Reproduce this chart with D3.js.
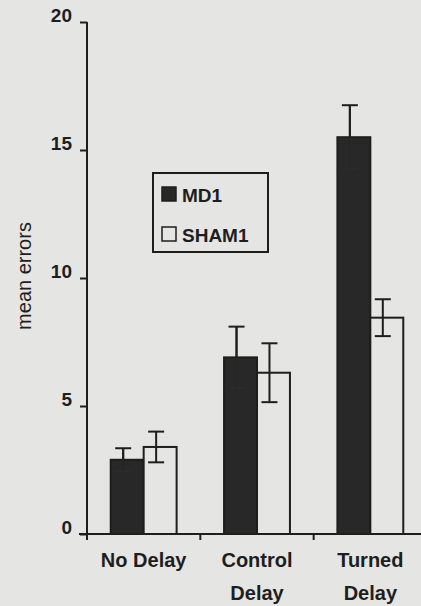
<!DOCTYPE html>
<html>
<head>
<meta charset="utf-8">
<script src="https://cdn.jsdelivr.net/npm/d3@7"></script>
<style>
  html, body { margin: 0; padding: 0; background: #e5e5e3; }
  svg { display: block; font-family: "Liberation Sans", Arial, sans-serif; }
</style>
</head>
<body>
<div id="chart"></div>
<script>
const categories = [['No Delay'], ['Control', 'Delay'], ['Turned', 'Delay']];
const series = ['MD1', 'SHAM1'];
const md1 = [2.9, 6.9, 15.5];
const md1Err = [0.45, 1.2, 1.25];
const sham1 = [3.4, 6.3, 8.45];
const sham1Err = [0.6, 1.15, 0.72];
const yTicks = [0, 5, 10, 15, 20];

const width = 421;
const height = 606;
const margin = { top: 22, bottom: 72, left: 87, right: -6 };

const values = [md1, sham1];
const errors = [md1Err, sham1Err];
const fills = ['#282828', '#e5e5e3'];

const svg = d3.select('#chart')
  .append('svg')
  .attr('width', width)
  .attr('height', height);

svg.append('rect')
  .attr('width', width)
  .attr('height', height)
  .attr('fill', '#e5e5e3');

const x0 = d3.scaleBand()
  .domain(d3.range(categories.length))
  .range([margin.left, width - margin.right])
  .padding(0);

const x1 = d3.scaleBand()
  .domain(series)
  .range([0, x0.bandwidth()])
  .paddingInner(0)
  .paddingOuter(0.72);

const y = d3.scaleLinear()
  .domain([0, 20])
  .range([height - margin.bottom, margin.top]);

// bars
const groups = svg.append('g')
  .selectAll('g')
  .data(categories)
  .join('g')
    .attr('transform', (d, i) => `translate(${x0(i)},0)`);

groups.selectAll('rect')
  .data((d, i) => series.map((s, j) => ({ s, j, v: values[j][i], e: errors[j][i] })))
  .join('rect')
    .attr('x', d => x1(d.s))
    .attr('y', d => y(d.v))
    .attr('width', x1.bandwidth())
    .attr('height', d => y(0) - y(d.v))
    .attr('fill', d => fills[d.j])
    .attr('stroke', '#1e1e1e')
    .attr('stroke-width', 2);

// error bars (the dark bars hide their lower whisker)
const err = groups.selectAll('g.err')
  .data((d, i) => series.map((s, j) => ({ s, j, v: values[j][i], e: errors[j][i] })))
  .join('g')
    .attr('class', 'err')
    .attr('stroke', d => d.j ? '#1e1e1e' : '#1e1e1e')
    .attr('stroke-width', 2);

const cx = d => x1(d.s) + x1.bandwidth() / 2 - 4;

err.append('line')
  .attr('x1', cx).attr('x2', cx)
  .attr('y1', d => y(d.v + d.e))
  .attr('y2', d => y(d.v - d.e))
  .attr('stroke', d => d.j ? null : '#262626');
err.append('line')
  .attr('x1', d => cx(d) - 8).attr('x2', d => cx(d) + 8)
  .attr('y1', d => y(d.v + d.e)).attr('y2', d => y(d.v + d.e));
err.append('line')
  .attr('x1', d => cx(d) - 8).attr('x2', d => cx(d) + 8)
  .attr('y1', d => y(d.v - d.e)).attr('y2', d => y(d.v - d.e))
  .attr('stroke', d => d.j ? null : '#2b2b2b');
// redraw upper whisker of dark bars over the bar outline
err.filter(d => !d.j).append('line')
  .attr('x1', cx).attr('x2', cx)
  .attr('y1', d => y(d.v + d.e))
  .attr('y2', d => y(d.v));

// y axis
function yAxis(g) {
  g.attr('transform', `translate(${margin.left},0)`)
    .call(d3.axisLeft(y).tickValues(yTicks).tickSize(7).tickPadding(8).tickSizeOuter(0))
    .call(g => g.select('.domain').remove())
    .call(g => g.selectAll('.tick line').attr('stroke', '#1e1e1e').attr('stroke-width', 2))
    .call(g => g.selectAll('.tick text')
      .attr('fill', '#1e1e1e')
      .attr('font-size', '19px')
      .attr('font-weight', 'bold')
      .attr('dy', '-0.05em'));
  g.append('line')
    .attr('x1', 0).attr('x2', 0)
    .attr('y1', y(20)).attr('y2', y(0) + 6)
    .attr('stroke', '#1e1e1e')
    .attr('stroke-width', 2);
  g.append('text')
    .attr('transform', `translate(-56,${(y(0) + y(20)) / 2 - 2}) rotate(-90)`)
    .attr('text-anchor', 'middle')
    .attr('font-size', '20px')
    .attr('fill', '#1e1e1e')
    .text('mean errors');
}

// x axis
function xAxis(g) {
  g.attr('transform', `translate(0,${y(0)})`);
  g.append('line')
    .attr('x1', margin.left - 8).attr('x2', width)
    .attr('stroke', '#1e1e1e')
    .attr('stroke-width', 2);
  g.selectAll('line.tick')
    .data(d3.range(1, categories.length))
    .join('line')
      .attr('class', 'tick')
      .attr('x1', i => x0(i)).attr('x2', i => x0(i))
      .attr('y1', 0).attr('y2', 6)
      .attr('stroke', '#1e1e1e')
      .attr('stroke-width', 2);
  g.selectAll('text')
    .data(categories)
    .join('text')
      .attr('x', (d, i) => x0(i) + x0.bandwidth() / 2)
      .attr('y', 33)
      .attr('text-anchor', 'middle')
      .attr('font-size', '20px')
      .attr('font-weight', 'bold')
      .attr('fill', '#1e1e1e')
      .selectAll('tspan')
      .data(d => d)
      .join('tspan')
        .attr('x', function () { return this.parentNode.getAttribute('x'); })
        .attr('dy', (d, i) => i ? 33 : 0)
        .text(d => d);
}

svg.append('g').call(xAxis);
svg.append('g').call(yAxis);

// legend
const legend = svg.append('g').attr('transform', 'translate(153,173)');
legend.append('rect')
  .attr('width', 115)
  .attr('height', 79)
  .attr('fill', 'none')
  .attr('stroke', '#1e1e1e')
  .attr('stroke-width', 2);
const item = legend.selectAll('g')
  .data(series)
  .join('g')
    .attr('transform', (d, i) => `translate(9,${14 + i * 40})`);
item.append('rect')
  .attr('width', 14)
  .attr('height', 14)
  .attr('fill', (d, i) => fills[i])
  .attr('stroke', '#1e1e1e')
  .attr('stroke-width', 1.5);
item.append('text')
  .attr('x', 20)
  .attr('y', 15)
  .attr('font-size', '19px')
  .attr('font-weight', 'bold')
  .attr('fill', '#1e1e1e')
  .text(d => d);
</script>
</body>
</html>
